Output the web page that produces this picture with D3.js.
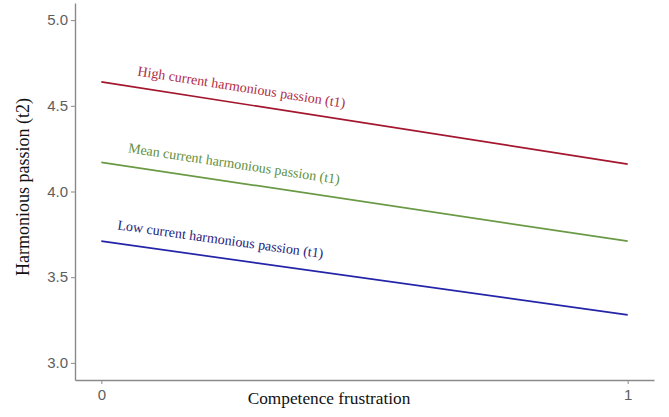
<!DOCTYPE html>
<html>
<head>
<meta charset="utf-8">
<script src="https://cdn.jsdelivr.net/npm/d3@7"></script>
<style>
  html, body { margin: 0; padding: 0; background: #fff; }
  svg { display: block; }
  .serif { font-family: "Liberation Serif", "Times New Roman", serif; }
  .sans { font-family: "Liberation Sans", Arial, sans-serif; }
</style>
</head>
<body>
<svg id="chart" width="669" height="417"></svg>
<script>
// Competence frustration (x) at the two plotted points
const xValues = [0, 1];
// Predicted harmonious passion (t2) for each level of current harmonious passion (t1)
const highValues = [4.64, 4.16];
const meanValues = [4.17, 3.71];
const lowValues = [3.71, 3.28];
const seriesNames = [
  "High current harmonious passion (t1)",
  "Mean current harmonious passion (t1)",
  "Low current harmonious passion (t1)"
];
const xTicks = [0, 1];
const yTicks = [3.0, 3.5, 4.0, 4.5, 5.0];

const svg = d3.select("#chart");
const plotLeft = 75, plotRight = 654, plotTop = 3, plotBottom = 380;

const x = d3.scaleLinear().domain([-0.05, 1.05]).range([plotLeft, plotRight]);
const y = d3.scaleLinear().domain([2.9, 5.1]).range([plotBottom, plotTop]);

// Axes
const yAxis = d3.axisLeft(y).tickValues(yTicks).tickFormat(d3.format(".1f")).tickSize(4).tickSizeOuter(0);
const xAxis = d3.axisBottom(x).tickValues(xTicks).tickFormat(d3.format("d")).tickSize(4).tickSizeOuter(0);

const gy = svg.append("g").attr("transform", `translate(${plotLeft},0)`).call(yAxis);
const gx = svg.append("g").attr("transform", `translate(0,${plotBottom})`).call(xAxis);

[gx, gy].forEach(g => {
  g.attr("font-family", null).attr("font-size", null);
  g.select(".domain").attr("stroke", "#8a8a8a").attr("stroke-width", 1.4);
  g.selectAll(".tick line").attr("stroke", "#8a8a8a").attr("stroke-width", 1);
  g.selectAll(".tick text")
    .attr("class", "sans")
    .attr("fill", "#5e5e5e")
    .style("font-size", "15px");
});
gy.selectAll(".tick text").attr("x", -7);
gx.selectAll(".tick text").attr("y", 9);

// Axis titles
svg.append("text")
  .attr("class", "serif")
  .attr("x", 329)
  .attr("y", 404)
  .attr("text-anchor", "middle")
  .style("font-size", "17.3px")
  .attr("fill", "#111")
  .text("Competence frustration");

svg.append("text")
  .attr("class", "serif")
  .attr("transform", "translate(29,187) rotate(-90)")
  .attr("text-anchor", "middle")
  .style("font-size", "18px")
  .attr("fill", "#111")
  .text("Harmonious passion (t2)");

// Lines with labels
const series = [
  { name: seriesNames[0], values: highValues, color: "#a3162e", text: "#b02a45", lx: 0.068, dy: -12 },
  { name: seriesNames[1], values: meanValues, color: "#6a9a45", text: "#5e8f3e", lx: 0.05, dy: -14 },
  { name: seriesNames[2], values: lowValues, color: "#2424a8", text: "#23237e", lx: 0.03, dy: -14 }
];

const line = d3.line().x((d, i) => x(xValues[i])).y(d => y(d));

series.forEach(s => {
  svg.append("path")
    .datum(s.values)
    .attr("fill", "none")
    .attr("stroke", s.color)
    .attr("stroke-width", 1.7)
    .attr("d", line);

  const x0 = x(xValues[0]), x1 = x(xValues[1]);
  const y0 = y(s.values[0]), y1 = y(s.values[1]);
  const angle = Math.atan2(y1 - y0, x1 - x0) * 180 / Math.PI;
  const px = x(s.lx);
  const py = y0 + (y1 - y0) * (px - x0) / (x1 - x0) + s.dy;
  svg.append("text")
    .attr("class", "serif")
    .attr("transform", `translate(${px},${py}) rotate(${angle})`)
    .attr("text-anchor", "start")
    .style("font-size", "14px")
    .attr("fill", s.text)
    .text(s.name);
});
</script>
</body>
</html>
